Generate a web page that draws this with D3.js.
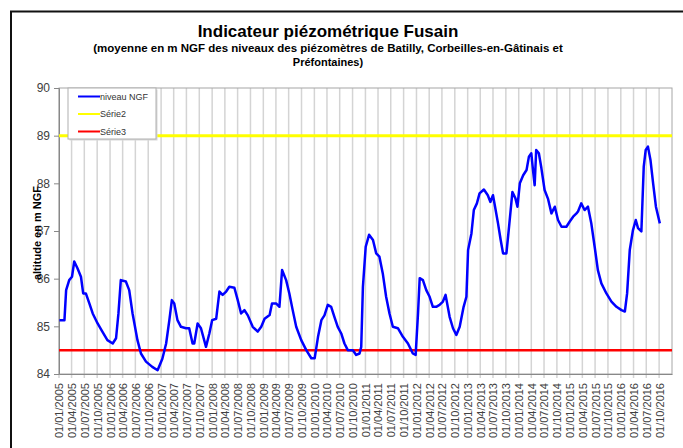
<!DOCTYPE html>
<html>
<head>
<meta charset="utf-8">
<script src="https://cdn.jsdelivr.net/npm/d3@7"></script>
<style>
  body { margin: 0; background: #fff; }
  .chart text { font-family: "Liberation Sans", Arial, sans-serif; }
</style>
</head>
<body>
<div class="chart"></div>
<script>
// niveau NGF : moyenne des piezometres
var dates = [
  "2005-01-04","2005-02-09","2005-02-21","2005-03-15","2005-04-04","2005-04-20","2005-05-13","2005-06-07",
  "2005-06-23","2005-07-12","2005-08-06","2005-08-30","2005-10-04","2005-11-07","2005-12-13","2006-01-20",
  "2006-02-13","2006-03-02","2006-03-19","2006-04-24","2006-05-18","2006-06-11","2006-07-16","2006-08-10",
  "2006-09-15","2006-10-30","2006-12-07","2007-01-10","2007-02-06","2007-03-01","2007-03-19","2007-04-05",
  "2007-04-28","2007-05-23","2007-06-28","2007-07-21","2007-08-14","2007-08-26","2007-09-19","2007-10-13",
  "2007-11-18","2007-12-12","2008-01-01","2008-01-30","2008-02-22","2008-03-16","2008-04-10","2008-05-03",
  "2008-06-08","2008-07-02","2008-07-26","2008-08-19","2008-09-12","2008-10-17","2008-11-22","2008-12-17",
  "2009-01-10","2009-02-15","2009-03-04","2009-04-02","2009-04-26","2009-05-15","2009-06-13","2009-07-06",
  "2009-07-30","2009-08-24","2009-09-29","2009-11-04","2009-12-10","2010-01-03","2010-01-27","2010-02-20",
  "2010-03-14","2010-04-07","2010-05-01","2010-05-24","2010-06-17","2010-07-12","2010-08-04","2010-08-28",
  "2010-10-03","2010-10-27","2010-11-20","2010-12-02","2010-12-14","2011-01-03","2011-01-27","2011-02-24",
  "2011-03-19","2011-04-11","2011-05-05","2011-05-29","2011-06-22","2011-07-16","2011-08-21","2011-09-26",
  "2011-11-01","2011-12-06","2011-12-26","2012-01-12","2012-01-24","2012-02-16","2012-03-11","2012-04-04",
  "2012-04-27","2012-05-21","2012-06-14","2012-07-08","2012-07-27","2012-08-25","2012-09-18","2012-10-12",
  "2012-11-05","2012-12-03","2012-12-23","2013-01-04","2013-01-28","2013-02-14","2013-03-08","2013-03-27",
  "2013-04-27","2013-05-25","2013-06-12","2013-07-01","2013-07-20","2013-08-06","2013-08-25","2013-09-11",
  "2013-10-05","2013-10-24","2013-11-17","2013-12-09","2013-12-23","2014-01-09","2014-02-02","2014-02-26",
  "2014-03-15","2014-04-01","2014-04-13","2014-04-25","2014-05-06","2014-05-25","2014-06-12","2014-07-05",
  "2014-07-29","2014-08-23","2014-09-16","2014-10-09","2014-11-03","2014-12-08","2015-01-01","2015-01-25",
  "2015-02-18","2015-03-01","2015-03-24","2015-04-17","2015-05-11","2015-06-04","2015-06-28","2015-07-21",
  "2015-08-15","2015-09-20","2015-10-26","2015-12-01","2016-01-06","2016-01-30","2016-02-15","2016-03-05",
  "2016-03-28","2016-04-17","2016-05-03","2016-05-27","2016-06-13","2016-06-27","2016-07-13","2016-07-31",
  "2016-08-19","2016-09-08","2016-10-06"
];
var niveauNGF = [
  85.13,85.13,85.76,85.97,86.04,86.36,86.22,86.04,
  85.69,85.69,85.48,85.27,85.06,84.89,84.71,84.64,
  84.75,85.27,85.97,85.94,85.76,85.27,84.71,84.43,
  84.26,84.15,84.08,84.32,84.64,85.13,85.55,85.48,
  85.13,84.99,84.96,84.96,84.64,84.64,85.06,84.96,
  84.57,84.85,85.13,85.16,85.73,85.66,85.73,85.83,
  85.81,85.55,85.27,85.34,85.23,84.99,84.89,84.99,
  85.16,85.24,85.48,85.48,85.41,86.18,85.97,85.69,
  85.34,84.99,84.71,84.50,84.33,84.33,84.78,85.13,
  85.23,85.45,85.41,85.20,84.99,84.85,84.64,84.50,
  84.50,84.40,84.43,84.57,85.83,86.67,86.92,86.81,
  86.53,86.46,86.11,85.62,85.27,84.99,84.96,84.78,
  84.64,84.43,84.40,85.27,86.01,85.97,85.76,85.62,
  85.41,85.41,85.45,85.52,85.66,85.20,84.96,84.82,
  84.99,85.41,85.62,86.60,86.95,87.44,87.58,87.79,
  87.87,87.75,87.61,87.75,87.44,87.16,86.81,86.53,
  86.53,87.09,87.82,87.68,87.51,88.00,88.17,88.28,
  88.56,88.63,88.28,87.96,88.70,88.63,88.32,87.86,
  87.68,87.37,87.51,87.23,87.09,87.09,87.20,87.30,
  87.37,87.41,87.58,87.44,87.51,87.16,86.67,86.18,
  85.90,85.69,85.52,85.41,85.34,85.31,85.69,86.60,
  87.02,87.23,87.06,86.99,88.35,88.70,88.77,88.49,
  88.00,87.51,87.16
];
// Serie2 et Serie3 : niveaux constants
var serie2 = 89;
var serie3 = 84.5;
var yTicks = [84, 85, 86, 87, 88, 89, 90];
var axisStart = "2005-01-01", axisEnd = "2017-01-01", lastLabel = "2016-10-01";
var legendLabels = ["niveau NGF", "Série2", "Série3"];
var legendColors = ["#0000ff", "#ffff00", "#ff0000"];

var Fusain = (function() {
  var parse = d3.timeParse("%Y-%m-%d");

  function drawChart() {
    var width = 683, height = 448;
    var plot = { left: 59, right: 672, top: 88, bottom: 374 };

    var svg = d3.select(".chart").append("svg")
      .attr("width", width)
      .attr("height", height);

    // cadre du graphique
    svg.append("rect")
      .attr("x", 11).attr("y", 11.5)
      .attr("width", 760).attr("height", 520)
      .attr("fill", "none")
      .attr("stroke", "#111")
      .attr("stroke-width", 2);

    var x = d3.scaleTime()
      .domain([parse(axisStart), parse(axisEnd)])
      .range([plot.left, plot.right]);

    var y = d3.scaleLinear()
      .domain([84, 90])
      .range([plot.bottom, plot.top]);

    var quarters = d3.timeMonth.every(3).range(parse(axisStart), d3.timeDay.offset(parse(lastLabel), 1));

    // grille verticale
    svg.append("g")
      .selectAll("line")
      .data(quarters)
      .enter().append("line")
        .attr("x1", d => x(d)).attr("x2", d => x(d))
        .attr("y1", plot.top).attr("y2", plot.bottom + 4)
        .attr("stroke", "#d4d4d4")
        .attr("stroke-width", 1.5);

    // bordure de la zone de tracé
    svg.append("rect")
      .attr("x", plot.left).attr("y", plot.top)
      .attr("width", plot.right - plot.left)
      .attr("height", plot.bottom - plot.top)
      .attr("fill", "none")
      .attr("stroke", "#a6a6a6")
      .attr("stroke-width", 1);

    // axe Y
    var yAxis = svg.append("g")
      .attr("transform", "translate(" + plot.left + ",0)")
      .call(d3.axisLeft(y).tickValues(yTicks).tickSize(5).tickPadding(4).tickFormat(d3.format("d")));
    yAxis.select(".domain").attr("stroke", "#888");
    yAxis.selectAll(".tick line").attr("stroke", "#888");
    yAxis.selectAll("text")
      .attr("fill", "#404040")
      .style("font-size", "12px");

    // axe X
    var xAxis = svg.append("g")
      .attr("transform", "translate(0," + plot.bottom + ")")
      .call(d3.axisBottom(x).tickValues(quarters).tickSize(0).tickFormat(d3.timeFormat("%d/%m/%Y")));
    xAxis.select(".domain").attr("stroke", "#888");
    xAxis.selectAll("text")
      .attr("fill", "#404040")
      .style("font-size", "11px")
      .attr("text-anchor", "end")
      .attr("transform", "translate(0,9) rotate(-90)")
      .attr("x", 0)
      .attr("y", 0)
      .attr("dy", "0.36em");

    // series de seuil
    var seuilLine = d3.line()
      .x(d => x(d[0]))
      .y(d => y(d[1]));

    svg.append("path")
      .datum([[parse(axisStart), serie3], [parse(axisEnd), serie3]])
      .attr("d", seuilLine)
      .attr("stroke", "#ff0000")
      .attr("stroke-width", 2.5)
      .attr("fill", "none");

    svg.append("path")
      .datum([[parse(axisStart), serie2], [parse(axisEnd), serie2]])
      .attr("d", seuilLine)
      .attr("stroke", "#ffff00")
      .attr("stroke-width", 3)
      .attr("fill", "none");

    // niveau NGF
    var data = dates.map(function(d, i) { return { date: parse(d), value: niveauNGF[i] }; });

    var line = d3.line()
      .x(d => x(d.date))
      .y(d => y(d.value));

    svg.append("path")
      .datum(data)
      .attr("d", line)
      .attr("stroke", "#0000ff")
      .attr("stroke-width", 2.5)
      .attr("stroke-linejoin", "round")
      .attr("fill", "none");

    // legende
    var legend = svg.append("g")
      .attr("transform", "translate(68,88)");

    legend.append("rect")
      .attr("x", 1.5).attr("y", 1.5)
      .attr("width", 88).attr("height", 51)
      .attr("fill", "#d8d8d8");

    legend.append("rect")
      .attr("width", 88).attr("height", 51)
      .attr("fill", "#fff")
      .attr("stroke", "#b0b0b0")
      .attr("stroke-width", 1);

    var item = legend.selectAll(".item")
      .data(legendLabels)
      .enter().append("g")
        .attr("class", "item")
        .attr("transform", (d, i) => "translate(0," + (8.5 + i * 17.5) + ")");

    item.append("line")
      .attr("x1", 10).attr("x2", 32)
      .attr("stroke", (d, i) => legendColors[i])
      .attr("stroke-width", 2);

    item.append("text")
      .attr("x", 32)
      .attr("dy", "0.35em")
      .attr("fill", "#333")
      .style("font-size", "9px")
      .text(d => d);

    // titres
    svg.append("text")
      .attr("x", 328).attr("y", 37)
      .attr("text-anchor", "middle")
      .style("font-size", "17px")
      .style("font-weight", "bold")
      .text("Indicateur piézométrique Fusain");

    svg.append("text")
      .attr("x", 328).attr("y", 52)
      .attr("text-anchor", "middle")
      .style("font-size", "11.5px")
      .style("font-weight", "bold")
      .text("(moyenne en m NGF des niveaux des piézomètres de Batilly, Corbeilles-en-Gâtinais et");

    svg.append("text")
      .attr("x", 328).attr("y", 66)
      .attr("text-anchor", "middle")
      .style("font-size", "11px")
      .style("font-weight", "bold")
      .text("Préfontaines)");

    svg.append("text")
      .attr("transform", "translate(41,233) rotate(-90)")
      .attr("text-anchor", "middle")
      .style("font-size", "11px")
      .style("font-weight", "bold")
      .text("altitude en m NGF");
  }

  return {
    draw: function() {
      return drawChart();
    }
  };
})();

Fusain.draw();
</script>
</body>
</html>
